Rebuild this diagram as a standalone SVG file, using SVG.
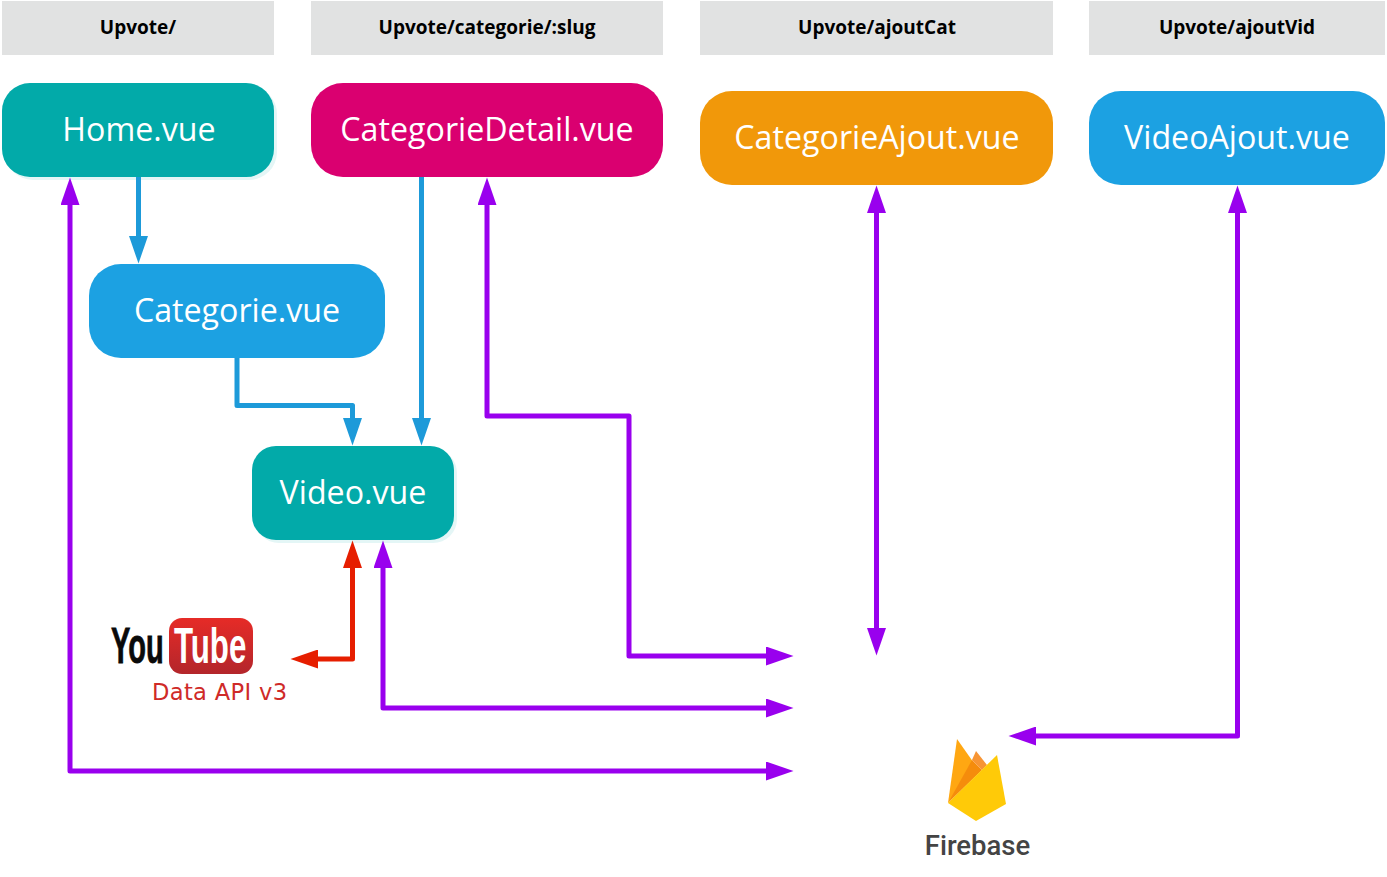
<svg xmlns="http://www.w3.org/2000/svg" width="1387" height="877" viewBox="0 0 1387 877">
<style>
.hd{fill:#e1e2e2}
.ht{font:bold 19px "Open Sans","Noto Sans",sans-serif;text-anchor:middle;fill:#000}
.nt{font:32.2px "Open Sans","Noto Sans",sans-serif;text-anchor:middle;fill:#fff}
.sh{fill:#e4f6f6}
.yt{font:bold 50px "Liberation Sans",Arial,sans-serif}
.c{fill:none;stroke-width:5;stroke-linejoin:round}
.b{stroke:#1d9ad9}.p{stroke:#9900ee}.r{stroke:#e61e00}
</style>
<defs>
<marker id="ab" markerUnits="userSpaceOnUse" markerWidth="28" markerHeight="19" viewBox="0 0 28 19" refX="1" refY="9.500" orient="auto-start-reverse"><path d="M0 0L27.500 9.500L0 19z" fill="#1d9ad9"/></marker>
<marker id="ap" markerUnits="userSpaceOnUse" markerWidth="28" markerHeight="19" viewBox="0 0 28 19" refX="1" refY="9.500" orient="auto-start-reverse"><path d="M0 0L27.500 9.500L0 19z" fill="#9900ee"/></marker>
<marker id="ar" markerUnits="userSpaceOnUse" markerWidth="28" markerHeight="19" viewBox="0 0 28 19" refX="1" refY="9.500" orient="auto-start-reverse"><path d="M0 0L27.500 9.500L0 19z" fill="#e61e00"/></marker>
<linearGradient id="yt" x1="0" y1="0" x2="0" y2="1"><stop offset="0" stop-color="#e62b27"/><stop offset="1" stop-color="#b3262b"/></linearGradient>
</defs>
<rect width="1387" height="877" fill="#fff"/>
<g id="header-home"><rect class="hd" x="2" y="1" width="272" height="54"/><text class="ht" x="138" y="34">Upvote/</text></g>
<g id="header-detail"><rect class="hd" x="311" y="1" width="352" height="54"/><text class="ht" x="487" y="34">Upvote/categorie/:slug</text></g>
<g id="header-ajoutcat"><rect class="hd" x="700" y="1" width="353" height="54"/><text class="ht" x="877" y="34">Upvote/ajoutCat</text></g>
<g id="header-ajoutvid"><rect class="hd" x="1089" y="1" width="296" height="54"/><text class="ht" x="1237" y="34">Upvote/ajoutVid</text></g>
<g id="home"><rect class="sh" x="5" y="86" width="272" height="94" rx="28"/><rect x="2" y="83" width="272" height="94" rx="28" fill="#02aaa9"/><text class="nt" x="139" y="141">Home.vue</text></g>
<g id="categorie-detail"><rect x="311" y="83" width="352" height="94" rx="32" fill="#da0070"/><text class="nt" x="487" y="141">CategorieDetail.vue</text></g>
<g id="categorie-ajout"><rect x="700" y="91" width="353" height="94" rx="32" fill="#f1980a"/><text class="nt" x="877" y="149">CategorieAjout.vue</text></g>
<g id="video-ajout"><rect x="1089" y="91" width="296" height="94" rx="32" fill="#1ca1e2"/><text class="nt" x="1237" y="149">VideoAjout.vue</text></g>
<g id="categorie"><rect x="89" y="264" width="296" height="94" rx="32" fill="#1ca1e2"/><text class="nt" x="237" y="322">Categorie.vue</text></g>
<g id="video"><rect class="sh" x="255" y="449" width="202" height="94" rx="24"/><rect x="252" y="446" width="202" height="94" rx="24" fill="#02aaa9"/><text class="nt" x="353" y="504">Video.vue</text></g>
<g id="connectors">
<path class="c b" d="M138.500 177V237" marker-end="url(#ab)"/>
<path class="c b" d="M237 358V405.500H352.500V419" marker-end="url(#ab)"/>
<path class="c b" d="M421.500 177V419" marker-end="url(#ab)"/>
<path class="c p" d="M70 204V771H767" marker-start="url(#ap)" marker-end="url(#ap)"/>
<path class="c p" d="M487 204V416H629V656H767" marker-start="url(#ap)" marker-end="url(#ap)"/>
<path class="c p" d="M876.500 212V629" marker-start="url(#ap)" marker-end="url(#ap)"/>
<path class="c p" d="M1237.500 212V736H1035" marker-start="url(#ap)" marker-end="url(#ap)"/>
<path class="c p" d="M383 567V708H767" marker-start="url(#ap)" marker-end="url(#ap)"/>
<path class="c r" d="M352.500 567V659H317" marker-start="url(#ar)" marker-end="url(#ar)"/>
</g>
<g id="youtube">
<text class="yt" transform="translate(111 663) scale(.58 1)" fill="#0a0a0a" stroke="#0a0a0a" stroke-width=".8">You</text>
<rect x="169" y="618" width="84" height="56" rx="13" fill="url(#yt)"/>
<text class="yt" transform="translate(174 663) scale(.625 1)" fill="#fff">Tube</text>
<text x="152" y="700" font-family="'DejaVu Sans',sans-serif" font-size="22.6" textLength="135" fill="#cf2a28">Data API v3</text>
</g>
<g id="firebase">
<path d="M948 803L957 739L976 766z" fill="#ffa712"/>
<path d="M948 803L972 760L982 770z" fill="#f58c0c"/>
<path d="M976 751L987 765L982 770L972 760z" fill="#f79534"/>
<path d="M948 803L997 755L1006 804L976 821z" fill="#ffca08"/>
<text x="977.500" y="855" font-family="Roboto,sans-serif" font-weight="500" font-size="27.500" text-anchor="middle" fill="#444">Firebase</text>
</g>
</svg>
